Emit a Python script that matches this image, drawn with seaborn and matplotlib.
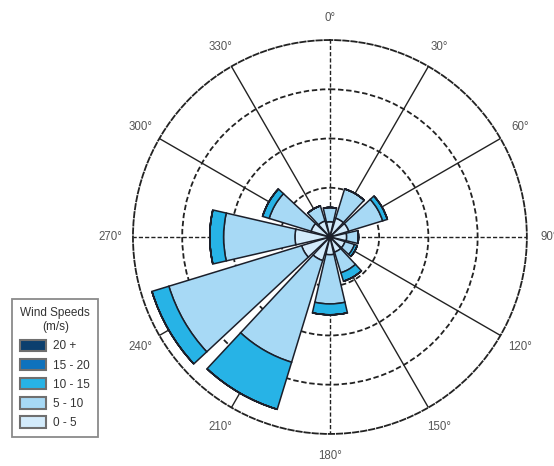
import numpy as np
import matplotlib
matplotlib.use("Agg")
import matplotlib.pyplot as plt
from matplotlib.patches import Patch
import seaborn as sns

# wind directions (deg, clockwise from north)
directions = [0, 30, 60, 90, 120, 150, 180, 210, 240, 270, 300, 330]

# frequency per speed bin (stacked outward)
speed_0_5 = [1.55, 2.0, 2.0, 1.7, 1.6, 1.6, 1.8, 2.5, 3.0, 3.55, 2.0, 1.7]
speed_5_10 = [1.45, 3.1, 3.6, 1.2, 1.0, 2.2, 5.0, 10.8, 14.1, 7.25, 4.45, 1.6]
speed_10_15 = [0.0, 0.0, 0.5, 0.0, 0.3, 0.9, 1.1, 5.0, 1.8, 1.4, 0.7, 0.0]
speed_15_20 = [0.0, 0.0, 0.0, 0.0, 0.0, 0.0, 0.0, 0.0, 0.0, 0.0, 0.0, 0.0]
speed_20_plus = [0.0, 0.0, 0.0, 0.0, 0.0, 0.0, 0.0, 0.0, 0.0, 0.0, 0.0, 0.0]

bin_labels = ["0 - 5", "5 - 10", "10 - 15", "15 - 20", "20 +"]
bin_colors = ["#d3ebfb", "#a7d9f5", "#27b3e6", "#0e72bd", "#0c3f6e"]

sns.set_theme(style="white")
plt.rcParams['font.family'] = ['Liberation Sans', 'DejaVu Sans']

fig = plt.figure(figsize=(5.54, 4.66), dpi=100)
ax = fig.add_axes([0.240, 0.0687, 0.711, 0.8455], projection="polar")
ax.set_theta_zero_location("N")
ax.set_theta_direction(-1)
ax.set_axisbelow(True)

theta = np.deg2rad(directions)
width = np.deg2rad(26)
palette = sns.color_palette(bin_colors)
bins = [speed_0_5, speed_5_10, speed_10_15, speed_15_20, speed_20_plus]

bottom = np.zeros(len(directions))
for vals, col in zip(bins, palette):
    vals = np.array(vals)
    ax.bar(theta, vals, width=width, bottom=bottom, color=col,
           edgecolor="#1b1f2a", linewidth=1.1, align="center")
    bottom += vals

ax.set_ylim(0, 20)
ax.set_yticks([5, 10, 15])
ax.set_yticklabels([])
ax.set_xticks(np.deg2rad(np.arange(0, 360, 30)))
ax.set_xticklabels([f"{d}°" for d in range(0, 360, 30)], fontsize=8.3, color="#555555")
ax.tick_params(axis="x", pad=3)

# cardinal spokes dashed, the rest solid
for d, gl in zip(range(0, 360, 30), ax.xaxis.get_gridlines()):
    gl.set_color("#222222")
    gl.set_linewidth(1.0)
    gl.set_linestyle((0, (3, 1.5)) if d % 90 == 0 else "-")
for gl in ax.yaxis.get_gridlines():
    gl.set_color("#222222")
    gl.set_linewidth(1.3)
    gl.set_linestyle((0, (3, 1.5)))
ax.spines["polar"].set_color("#222222")
ax.spines["polar"].set_linewidth(1.3)
ax.spines["polar"].set_linestyle((0, (3, 1.5)))

handles = [Patch(facecolor=c, edgecolor="#6f6f6f", linewidth=1.5, label=l)
           for c, l in zip(palette, bin_labels)][::-1]
leg = fig.legend(handles=handles, loc="upper left", bbox_to_anchor=(0.0217, 0.358),
                 title="Wind Speeds\n(m/s)", fontsize=8.5, title_fontsize=8.5,
                 handlelength=2.2, handleheight=1.1, labelspacing=0.55,
                 fancybox=False, framealpha=1, edgecolor="#8a8a8a",
                 borderpad=0.7, handletextpad=0.6, borderaxespad=0)
leg.get_title().set_multialignment("center")
leg.get_title().set_color("#333333")
leg.get_frame().set_linewidth(1.3)
for t in leg.get_texts():
    t.set_color("#333333")

fig.savefig("out.png", dpi=100)
